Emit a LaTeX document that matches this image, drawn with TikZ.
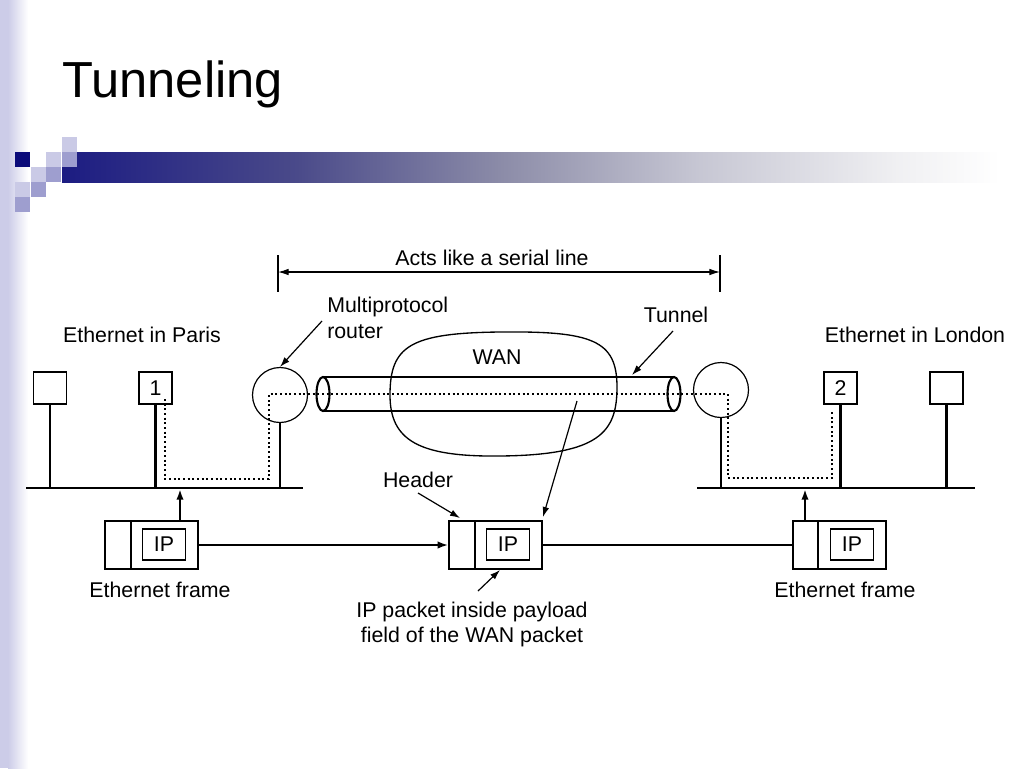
\documentclass[tikz,border=0pt]{standalone}
\usepackage{fontspec}
\setmainfont{Liberation Sans}
\usetikzlibrary{arrows.meta}
\definecolor{navy}{HTML}{0B0B7A}
\definecolor{lightsq}{HTML}{CACAE6}
\definecolor{medsq}{HTML}{9E9ECF}
\definecolor{stripe}{HTML}{CCCCE8}
\pgfdeclarehorizontalshading{barshade}{100bp}{rgb(0bp)=(0.11,0.11,0.51); rgb(25bp)=(0.11,0.11,0.51); rgb(37.5bp)=(0.29,0.29,0.54); rgb(48.5bp)=(0.55,0.55,0.66); rgb(59bp)=(0.78,0.78,0.83); rgb(69.5bp)=(0.94,0.94,0.95); rgb(75bp)=(1,1,1); rgb(100bp)=(1,1,1)}
\tikzset{
  lbl/.style={inner sep=0pt, font=\fontsize{16}{19}\selectfont},
  hostbox/.style={draw, line width=0.9pt, minimum width={33*0.75pt}, minimum height={32*0.75pt}, inner sep=0pt, font=\fontsize{16}{19}\selectfont},
  routerc/.style={draw, circle, line width=0.9pt, minimum size={55*0.75pt}, inner sep=0pt},
  pktbox/.style={draw, line width=0.9pt, minimum width={93*0.75pt}, minimum height={48*0.75pt}, inner sep=0pt},
  ipbox/.style={draw, line width=0.9pt, minimum width={43*0.75pt}, minimum height={31*0.75pt}, inner sep=0pt, font=\fontsize{16}{19}\selectfont},
  heavy/.style={line width=1.9pt},
  thinline/.style={line width=0.9pt},
  dotline/.style={line width=1.6pt, dash pattern=on 1.5pt off 2pt},
  ptr/.style={line width=0.9pt, -{Latex[length=7.5pt,width=5pt]}},
  sq/.style={fill=#1, draw=none}
}
\begin{document}
\begin{tikzpicture}[x=0.75pt,y=-0.75pt]
\useasboundingbox (0,0) rectangle (1024,768);
% background decoration
\fill[white] (0,0) rectangle (1024,768);
\fill[stripe] (0,0) rectangle (8,768);
\shade[left color=stripe, right color=white, draw=none] (8,0) rectangle (28,768);
\fill[shading=barshade, draw=none] (62,152) rectangle (1000,182);
\fill[sq=navy] (15,152) rectangle (30,167);
\fill[sq=lightsq] (62,137) rectangle (77,152);
\fill[sq=lightsq] (46,152) rectangle (61,167);
\fill[sq=lightsq] (31,167) rectangle (46,182);
\fill[sq=lightsq] (15,182) rectangle (30,197);
\fill[sq=medsq] (62,152) rectangle (77,167);
\fill[sq=medsq] (46,167) rectangle (61,182);
\fill[sq=medsq] (31,182) rectangle (46,197);
\fill[sq=medsq] (15,197) rectangle (30,212);
% title
\node[anchor=base west, inner sep=0pt, font=\fontsize{38}{44}\selectfont] (title) at (62,97) {Tunneling};

% top dimension
\node[lbl, anchor=base] (acts) at (492,265) {Acts like a serial line};
\coordinate (dl) at (278,272);
\coordinate (dr) at (720,272);
\draw[thinline] (278,255) -- (278,292);
\draw[thinline] (720,255) -- (720,292);
\draw[thinline, {Latex[length=8pt,width=5pt]}-{Latex[length=8pt,width=5pt]}] (dl) -- (dr);

% labels
\node[lbl, anchor=base] (paris) at (142,342) {Ethernet in Paris};
\node[lbl, anchor=base] (london) at (915,342) {Ethernet in London};
\node[lbl, anchor=base west] (mp) at (327,312) {Multiprotocol};
\node[lbl, anchor=base west] (rt) at (327,338) {router};
\node[lbl, anchor=base] (tun) at (676,322) {Tunnel};
\node[lbl, anchor=base] (wan) at (497,364) {WAN};
\node[lbl, anchor=base] (hdr) at (418,487) {Header};
\node[lbl, anchor=base] (efl) at (160,597) {Ethernet frame};
\node[lbl, anchor=base] (efr) at (845,597) {Ethernet frame};
\node[lbl, anchor=base] (ipp1) at (472,617) {IP packet inside payload};
\node[lbl, anchor=base] (ipp2) at (472,642) {field of the WAN packet};

% WAN cloud
\draw[line width=1pt] (500,332) .. controls (592,331) and (617,340) .. (617,387)
  .. controls (617,432) and (600,455) .. (500,456)
  .. controls (418,457) and (390,440) .. (390,395)
  .. controls (390,346) and (410,333) .. (500,332) -- cycle;

% hosts
\node[hostbox] (h0) at (50,388) {};
\node[hostbox] (h1) at (155.5,388) {1};
\node[hostbox] (h2) at (840.5,388) {2};
\node[hostbox] (h3) at (946.5,388) {};

% routers
\node[routerc] (r1) at (280,395) {};
\node[routerc] (r2) at (721,390) {};

% buses
\coordinate (bl1) at (26,488);
\coordinate (bl2) at (303,488);
\coordinate (br1) at (697,488);
\coordinate (br2) at (975,488);
\draw[heavy] (bl1) -- (bl2);
\draw[heavy] (br1) -- (br2);
\draw[heavy] (h0.south) -- (h0.south |- bl1);
\draw[heavy] (h1.south) -- (h1.south |- bl1);
\draw[heavy] (h2.south) -- (h2.south |- br1);
\draw[heavy] (h3.south) -- (h3.south |- br1);
\draw[heavy] (r1.south) -- (r1.south |- bl1);
\draw[heavy] (r2.south) -- (r2.south |- br1);

% tunnel
\coordinate (tl) at (323,394);
\coordinate (tr) at (674,394);
\draw[heavy] (323,377) -- (674,377);
\draw[heavy] (323,411) -- (674,411);
\draw[line width=1.6pt] (tl) ellipse [x radius=6.5, y radius=17];
\draw[line width=1.6pt] (tr) ellipse [x radius=6.5, y radius=17];

% dotted path
\draw[dotline] (165,399) -- (165,479) -- (269,479) -- (269,394) -- (728,394) -- (728,478) -- (832,478) -- (832,412);

% packets
\node[pktbox] (p1) at (151.5,545) {};
\node[pktbox] (p2) at (495.5,545) {};
\node[pktbox] (p3) at (839.5,545) {};
\draw[thinline] (131,521) -- (131,569);
\draw[thinline] (475,521) -- (475,569);
\draw[thinline] (818,521) -- (818,569);
\node[ipbox] (ip1) at (164,544.5) {IP};
\node[ipbox] (ip2) at (508,544.5) {IP};
\node[ipbox] (ip3) at (852,544.5) {IP};

\draw[line width=1.6pt, -{Latex[length=8pt,width=5.5pt]}] (p1.east) -- (p2.west);
\draw[line width=1.6pt] (p2.east) -- (p3.west);
\draw[line width=1.6pt, -{Latex[length=8pt,width=5.5pt]}] (180,521) -- (180,489);
\draw[line width=1.6pt, -{Latex[length=8pt,width=5.5pt]}] (805,521) -- (805,489);

% pointers
\coordinate (mpstart) at (322,321);
\draw[ptr] (mpstart) -- (r1.north);
\coordinate (tunstart) at (673,331);
\coordinate (tuntip) at (632,375);
\draw[ptr] (tunstart) -- (tuntip);
\coordinate (hdrstart) at (418,493);
\coordinate (hdrtip) at (460,518);
\draw[ptr] (hdrstart) -- (hdrtip);
\coordinate (wpstart) at (577,401);
\coordinate (wptip) at (543,517);
\draw[ptr] (wpstart) -- (wptip);
\coordinate (ippstart) at (478,591);
\coordinate (ipptip) at (500,570);
\draw[ptr] (ippstart) -- (ipptip);
\end{tikzpicture}
\end{document}
